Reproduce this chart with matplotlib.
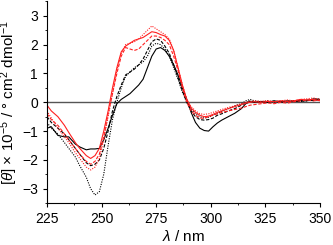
import matplotlib
matplotlib.use("Agg")
import matplotlib.pyplot as plt
from matplotlib.ticker import MultipleLocator

plt.rcParams["font.family"] = ["Liberation Sans", "DejaVu Sans"]
plt.rcParams["mathtext.fontset"] = "custom"
plt.rcParams["mathtext.rm"] = "Liberation Sans"
plt.rcParams["mathtext.it"] = "Liberation Sans:italic"

# wavelength grid (nm) shared by all traces
wl = [225, 227, 230, 233, 235, 238, 240, 243, 245, 247, 249, 251, 253, 255,
      257, 259, 261, 263, 265, 267, 269, 271, 273, 275, 277, 279, 281, 283,
      285, 287, 289, 291, 293, 295, 297, 299, 301, 303, 305, 308, 311, 314,
      316, 318, 320, 323, 326, 329, 332, 335, 338, 341, 344, 347, 350]

black_solid = [-0.9, -0.85, -1.15, -1.2, -1.2, -1.45, -1.55, -1.65, -1.62, -1.62, -1.6, -1.3, -0.9, -0.45,
               -0.05, 0.1, 0.2, 0.3, 0.45, 0.6, 0.8, 1.2, 1.6, 1.85, 1.9, 1.8, 1.6, 1.3,
               0.95, 0.5, 0.1, -0.35, -0.7, -0.9, -0.98, -1.0, -0.85, -0.72, -0.62, -0.5, -0.38, -0.22,
               -0.05, 0.02, 0.0, 0.03, 0.0, 0.05, 0.02, 0.05, 0.03, 0.07, 0.05, 0.12, 0.1]
black_dash = [-0.5, -0.7, -0.9, -1.1, -1.3, -1.6, -1.8, -2.1, -2.2, -2.15, -2.0, -1.6, -1.0, -0.3,
              0.2, 0.6, 0.95, 1.05, 1.15, 1.3, 1.5, 1.8, 2.1, 2.2, 2.15, 1.95, 1.7, 1.3,
              0.85, 0.4, 0.0, -0.3, -0.5, -0.6, -0.62, -0.6, -0.55, -0.45, -0.4, -0.3, -0.22, -0.1,
              -0.02, 0.05, 0.0, 0.02, 0.0, 0.04, 0.0, 0.03, 0.05, 0.02, 0.08, 0.06, 0.1]
black_dot = [-0.7, -0.9, -1.1, -1.4, -1.6, -1.9, -2.2, -2.6, -3.0, -3.22, -3.1, -2.5, -1.5, -0.6,
             0.0, 0.5, 0.9, 1.05, 1.2, 1.3, 1.4, 1.6, 1.95, 2.05, 2.0, 1.85, 1.6, 1.2,
             0.8, 0.35, 0.0, -0.25, -0.4, -0.5, -0.55, -0.52, -0.45, -0.38, -0.32, -0.22, -0.12, -0.05,
             0.05, 0.1, 0.05, 0.02, 0.05, 0.0, 0.04, 0.02, 0.06, 0.03, 0.05, 0.1, 0.12]
red_solid = [-0.1, -0.3, -0.5, -0.8, -1.05, -1.4, -1.6, -1.85, -1.95, -1.85, -1.6, -1.0, -0.3, 0.5,
             1.2, 1.75, 1.95, 2.05, 2.15, 2.2, 2.25, 2.35, 2.45, 2.42, 2.35, 2.3, 2.15, 1.8,
             1.2, 0.6, 0.1, -0.2, -0.35, -0.45, -0.5, -0.48, -0.42, -0.35, -0.3, -0.22, -0.15, -0.08,
             -0.03, 0.0, 0.02, 0.0, 0.03, 0.02, 0.05, 0.03, 0.05, 0.1, 0.08, 0.1, 0.05]
red_dash = [-0.4, -0.6, -0.8, -1.1, -1.3, -1.6, -1.8, -2.05, -2.15, -2.05, -1.8, -1.2, -0.4, 0.3,
            1.0, 1.6, 1.9, 1.85, 1.8, 1.85, 2.0, 2.15, 2.3, 2.3, 2.25, 2.15, 2.0, 1.6,
            1.1, 0.5, 0.0, -0.3, -0.45, -0.55, -0.55, -0.5, -0.45, -0.4, -0.35, -0.3, -0.25, -0.2,
            -0.15, -0.1, -0.08, -0.05, -0.02, -0.05, 0.0, -0.03, 0.02, 0.05, 0.08, 0.05, 0.08]
red_dot = [-0.3, -0.55, -0.9, -1.2, -1.4, -1.75, -1.95, -2.25, -2.35, -2.25, -1.95, -1.3, -0.5, 0.3,
           1.1, 1.7, 2.0, 2.05, 2.1, 2.2, 2.35, 2.5, 2.65, 2.55, 2.45, 2.35, 2.2, 1.8,
           1.2, 0.6, 0.1, -0.15, -0.3, -0.4, -0.42, -0.4, -0.35, -0.3, -0.25, -0.18, -0.12, -0.05,
           0.0, 0.03, 0.05, 0.03, 0.06, 0.02, 0.05, 0.08, 0.05, 0.1, 0.12, 0.15, 0.1]

traces = [
    (black_solid, "black", "-"),
    (black_dash, "black", (0, (3, 1.5))),
    (black_dot, "black", (0, (1, 1.2))),
    (red_solid, "#ff2020", "-"),
    (red_dash, "#ff2020", (0, (3, 1.5))),
    (red_dot, "#ff2020", (0, (1, 1.2))),
]

fig = plt.figure(figsize=(3.33, 2.45), dpi=100)
ax = fig.add_axes([0.141, 0.171, 0.820, 0.823])

ax.axhline(0, color="#555555", lw=1.0, zorder=1)
for y, c, ls in traces:
    ax.plot(wl, y, color=c, ls=ls, lw=0.8, zorder=2)

ax.set_xlim(225, 350)
ax.set_ylim(-3.5, 3.5)
ax.xaxis.set_major_locator(MultipleLocator(25))
ax.xaxis.set_minor_locator(MultipleLocator(12.5))
ax.yaxis.set_major_locator(MultipleLocator(1))
ax.yaxis.set_minor_locator(MultipleLocator(0.5))
ax.tick_params(which="both", direction="out", labelsize=10)
ax.tick_params(which="major", length=3)
ax.tick_params(which="minor", length=1.5)
for s in ("top", "right"):
    ax.spines[s].set_visible(False)

ax.set_xlabel(r"$\it{\lambda}$ / nm", fontsize=11, labelpad=2)
ax.set_ylabel(r"[$\it{\theta}$] $\times$ 10$^{-5}$ / ° cm$^{2}$ dmol$^{-1}$", fontsize=11)
ax.yaxis.set_label_coords(-0.098, 0.5)

fig.savefig("out.png", dpi=100)
